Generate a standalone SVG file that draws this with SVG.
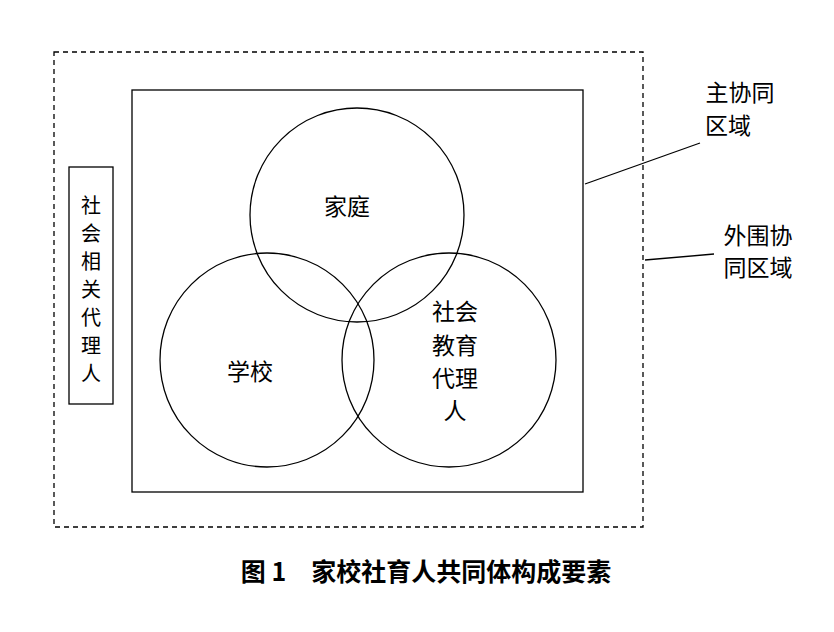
<svg xmlns="http://www.w3.org/2000/svg" width="834" height="632" viewBox="0 0 834 632">
<style>
.l{fill:none;stroke:#000;stroke-width:1.3}
text{font-family:"Noto Sans CJK SC","Liberation Serif",serif;font-size:23px;fill:#000;text-anchor:middle}
.v{font-size:20px}
</style>
<rect width="834" height="632" fill="#fff"/>
<g id="outer"><rect class="l" x="54" y="52" width="589" height="475" stroke-dasharray="5,4"/></g>
<g id="inner"><rect class="l" x="132" y="90" width="451" height="402"/></g>
<g id="home"><circle class="l" cx="357" cy="215" r="107"/><text x="347" y="215">家庭</text></g>
<g id="school"><circle class="l" cx="267" cy="360" r="107"/><text x="250" y="380">学校</text></g>
<g id="society"><circle class="l" cx="449" cy="360" r="107"/>
<text x="455" y="320">社会</text><text x="455" y="354">教育</text><text x="455" y="387">代理</text><text x="455" y="419">人</text></g>
<g id="related"><rect class="l" x="69" y="167" width="44" height="237"/>
<text class="v" x="91" y="213">社</text><text class="v" x="91" y="241">会</text><text class="v" x="91" y="269">相</text><text class="v" x="91" y="297">关</text><text class="v" x="91" y="325">代</text><text class="v" x="91" y="353">理</text><text class="v" x="91" y="381">人</text></g>
<g id="labels"><text x="740" y="101">主协同</text><text x="728" y="134">区域</text>
<text x="758" y="244">外围协</text><text x="758" y="276">同区域</text></g>
<g id="connectors"><line class="l" x1="585" y1="184" x2="700" y2="143"/><line class="l" x1="645" y1="260" x2="714" y2="254"/></g>
<text x="426" y="581" font-weight="bold" style="font-size:25px">图 1　家校社育人共同体构成要素</text>
</svg>
